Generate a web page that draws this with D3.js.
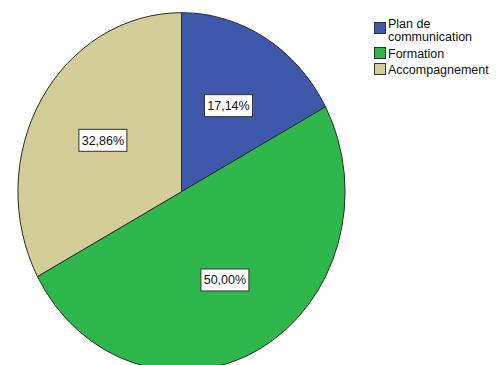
<!DOCTYPE html>
<html>
<head>
<meta charset="utf-8">
<script src="https://cdn.jsdelivr.net/npm/d3@7"></script>
<style>
  html, body { margin: 0; padding: 0; background: #fff; }
  svg { display: block; font-family: "Liberation Sans", Arial, sans-serif; }
</style>
</head>
<body>
<svg id="chart" width="504" height="365"></svg>
<script>
// Répartition des réponses (%)
const categories = ["Plan de communication", "Formation", "Accompagnement"];
const legendLines = [["Plan de", "communication"], ["Formation"], ["Accompagnement"]];
const values = [17.14, 50.00, 32.86];
const colors = ["#3e58ac", "#2eb84b", "#d4cd98"];

const svg = d3.select("#chart");
const cx = 181.5, cy = 191.7, rx = 163.5, ry = 179;

const pie = d3.pie().sort(null).value(d => d)(values);
// Unit-radius arcs, stretched into the ellipse by the group transform
const arc = d3.arc().innerRadius(0).outerRadius(1);
const labelArc = d3.arc().innerRadius(0.56).outerRadius(0.56);

const g = svg.append("g")
  .attr("transform", `translate(${cx},${cy}) scale(${rx},${ry})`);

g.selectAll("path.slice")
  .data(pie)
  .join("path")
  .attr("class", "slice")
  .attr("d", arc)
  .attr("fill", (d, i) => colors[i])
  .attr("stroke", "#2a2a2a")
  .attr("stroke-width", 1)
  .attr("vector-effect", "non-scaling-stroke");

const fmt = v => v.toFixed(2).replace(".", ",") + "%";

const labels = svg.append("g");
pie.forEach((d, i) => {
  const [ux, uy] = labelArc.centroid(d);
  const x = cx + ux * rx, y = cy + uy * ry;
  const lg = labels.append("g").attr("transform", `translate(${x},${y})`);
  const w = 48, h = 22;
  lg.append("rect")
    .attr("x", -w / 2).attr("y", -h / 2)
    .attr("width", w).attr("height", h)
    .attr("fill", "#fff")
    .attr("stroke", "#333")
    .attr("stroke-width", 1);
  lg.append("text")
    .attr("text-anchor", "middle")
    .attr("y", 4.5)
    .attr("font-size", "12.5px")
    .attr("fill", "#111")
    .text(fmt(d.data));
});

// Legend: swatch, then one or two lines of text centred on it
const legend = svg.append("g");
const itemTop = [22, 47, 63];
categories.forEach((c, i) => {
  const y0 = itemTop[i];
  legend.append("rect")
    .attr("x", 374.5).attr("y", y0 + 0.5)
    .attr("width", 11).attr("height", 11)
    .attr("fill", colors[i])
    .attr("stroke", "#333")
    .attr("stroke-width", 1);
  const lines = legendLines[i];
  const firstBaseline = lines.length > 1 ? y0 + 5.7 : y0 + 11;
  lines.forEach((line, j) => {
    legend.append("text")
      .attr("x", 388)
      .attr("y", firstBaseline + j * 13.3)
      .attr("font-size", "12.5px")
      .attr("fill", "#111")
      .text(line);
  });
});
</script>
</body>
</html>
